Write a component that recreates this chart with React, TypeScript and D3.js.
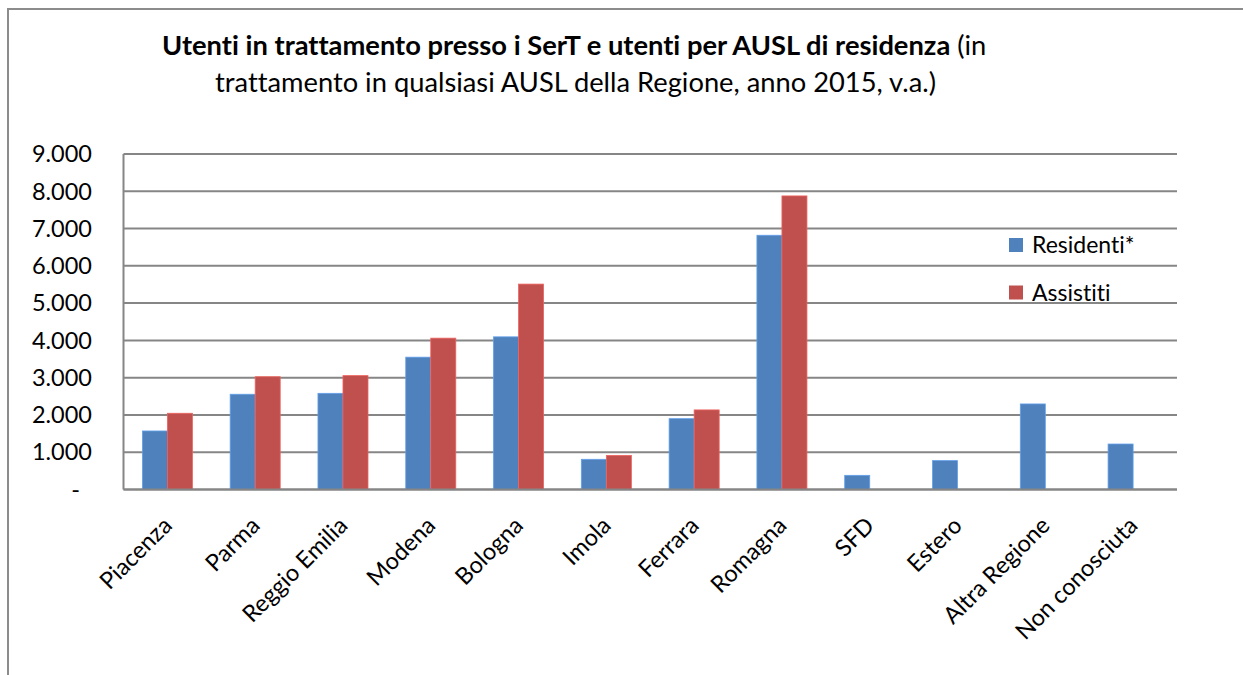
import React, { useEffect, useRef } from "react";
import * as d3 from "d3";

// categories (AUSL di residenza)
const categories: string[] = [
  "Piacenza",
  "Parma",
  "Reggio Emilia",
  "Modena",
  "Bologna",
  "Imola",
  "Ferrara",
  "Romagna",
  "SFD",
  "Estero",
  "Altra Regione",
  "Non conosciuta",
];

// series values
const residenti: (number | null)[] = [1570, 2555, 2580, 3550, 4095, 810, 1900, 6820, 380, 775, 2295, 1220];
const assistiti: (number | null)[] = [2045, 3025, 3055, 4060, 5510, 915, 2135, 7875, null, null, null, null];

const seriesNames: string[] = ["Residenti*", "Assistiti"];
const seriesColors: string[] = ["#4F81BD", "#C0504D"];

const yTicks: number[] = [0, 1000, 2000, 3000, 4000, 5000, 6000, 7000, 8000, 9000];

const titleBold = "Utenti in trattamento presso i SerT e utenti per AUSL di residenza";
const titleRest = " (in";
const titleLine2 = "trattamento in qualsiasi AUSL della Regione, anno 2015, v.a.)";

const FONT = "Lato, 'Open Sans', sans-serif";

const App = () => {
  const ref = useRef<SVGSVGElement | null>(null);

  useEffect(() => {
    document.body.style.margin = "0";
    const width = 1243;
    const height = 675;
    const left = 123.5;
    const right = 1177;
    const top = 154;
    const bottom = 489.5;

    const svg = d3.select(ref.current);
    svg.selectAll("*").remove();
    svg
      .attr("width", width)
      .attr("height", height)
      .style("font-family", FONT)
      .style("font-variant-ligatures", "none")
      .style("display", "block");

    // outer chart frame (runs off the right and bottom edge)
    svg
      .append("rect")
      .attr("x", 8)
      .attr("y", 9)
      .attr("width", 1400)
      .attr("height", 900)
      .attr("fill", "white")
      .attr("stroke", "#8c8c8c")
      .attr("stroke-width", 2);

    // title
    const t1 = svg
      .append("text")
      .attr("x", 162)
      .attr("y", 55)
      .attr("font-size", 27.3)
      .attr("fill", "#000");
    t1.append("tspan").attr("font-weight", "bold").text(titleBold);
    t1.append("tspan").attr("font-weight", "normal").text(titleRest);
    svg
      .append("text")
      .attr("x", 215)
      .attr("y", 92)
      .attr("font-size", 27.3)
      .attr("fill", "#000")
      .text(titleLine2);

    const x = d3
      .scaleBand<string>()
      .domain(categories)
      .range([left, right])
      .paddingInner(0.43)
      .paddingOuter(0.215);
    const xs = d3.scaleBand<string>().domain(seriesNames).range([0, x.bandwidth()]);
    const y = d3.scaleLinear().domain([0, 9000]).range([bottom, top]);

    const locale = d3.formatLocale({ decimal: ",", thousands: ".", grouping: [3], currency: ["€", ""] });
    const fmt = locale.format(",.0f");

    // gridlines
    svg
      .append("g")
      .selectAll("line")
      .data(yTicks)
      .enter()
      .append("line")
      .attr("x1", left)
      .attr("x2", right)
      .attr("y1", (d) => y(d))
      .attr("y2", (d) => y(d))
      .attr("stroke", "#868686")
      .attr("stroke-width", 2);

    // y tick labels
    svg
      .append("g")
      .selectAll("text")
      .data(yTicks)
      .enter()
      .append("text")
      .attr("x", (d) => (d === 0 ? 80 : 92))
      .attr("y", (d) => y(d))
      .attr("dy", "0.35em")
      .attr("text-anchor", "end")
      .attr("font-size", 23.5)
      .attr("fill", "#000")
      .text((d) => (d === 0 ? "-" : fmt(d)));

    // bars
    const series = [residenti, assistiti];
    series.forEach((values, si) => {
      svg
        .append("g")
        .selectAll("rect")
        .data(values.map((v, i) => ({ cat: categories[i], v })).filter((d) => d.v !== null))
        .enter()
        .append("rect")
        .attr("x", (d) => (x(d.cat) as number) + (xs(seriesNames[si]) as number))
        .attr("y", (d) => y(d.v as number))
        .attr("width", xs.bandwidth())
        .attr("height", (d) => bottom - y(d.v as number))
        .attr("fill", seriesColors[si])
        .attr("stroke", d3.color(seriesColors[si])!.brighter(0.6).formatHex())
        .attr("stroke-width", 0.8);
    });

    // axes lines
    svg
      .append("line")
      .attr("x1", left)
      .attr("x2", left)
      .attr("y1", top)
      .attr("y2", bottom)
      .attr("stroke", "#868686")
      .attr("stroke-width", 2);
    svg
      .append("line")
      .attr("x1", left)
      .attr("x2", right)
      .attr("y1", bottom)
      .attr("y2", bottom)
      .attr("stroke", "#868686")
      .attr("stroke-width", 2);

    // category labels
    svg
      .append("g")
      .selectAll("text")
      .data(categories)
      .enter()
      .append("text")
      .attr(
        "transform",
        (d) => `translate(${(x(d) as number) + x.bandwidth() / 2 + 6}, 527) rotate(-45)`,
      )
      .attr("text-anchor", "end")
      .attr("font-size", 23.5)
      .attr("fill", "#000")
      .text((d) => d);

    // legend
    const legend = svg.append("g");
    seriesNames.forEach((name, i) => {
      const g = legend.append("g").attr("transform", `translate(1009, ${238 + i * 47.5})`);
      g.append("rect").attr("width", 14).attr("height", 14).attr("fill", seriesColors[i]);
      g.append("text")
        .attr("x", 23)
        .attr("y", 15)
        .attr("font-size", 23)
        .attr("fill", "#000")
        .text(name);
    });
  }, []);

  return <svg ref={ref}></svg>;
};

export default App;
